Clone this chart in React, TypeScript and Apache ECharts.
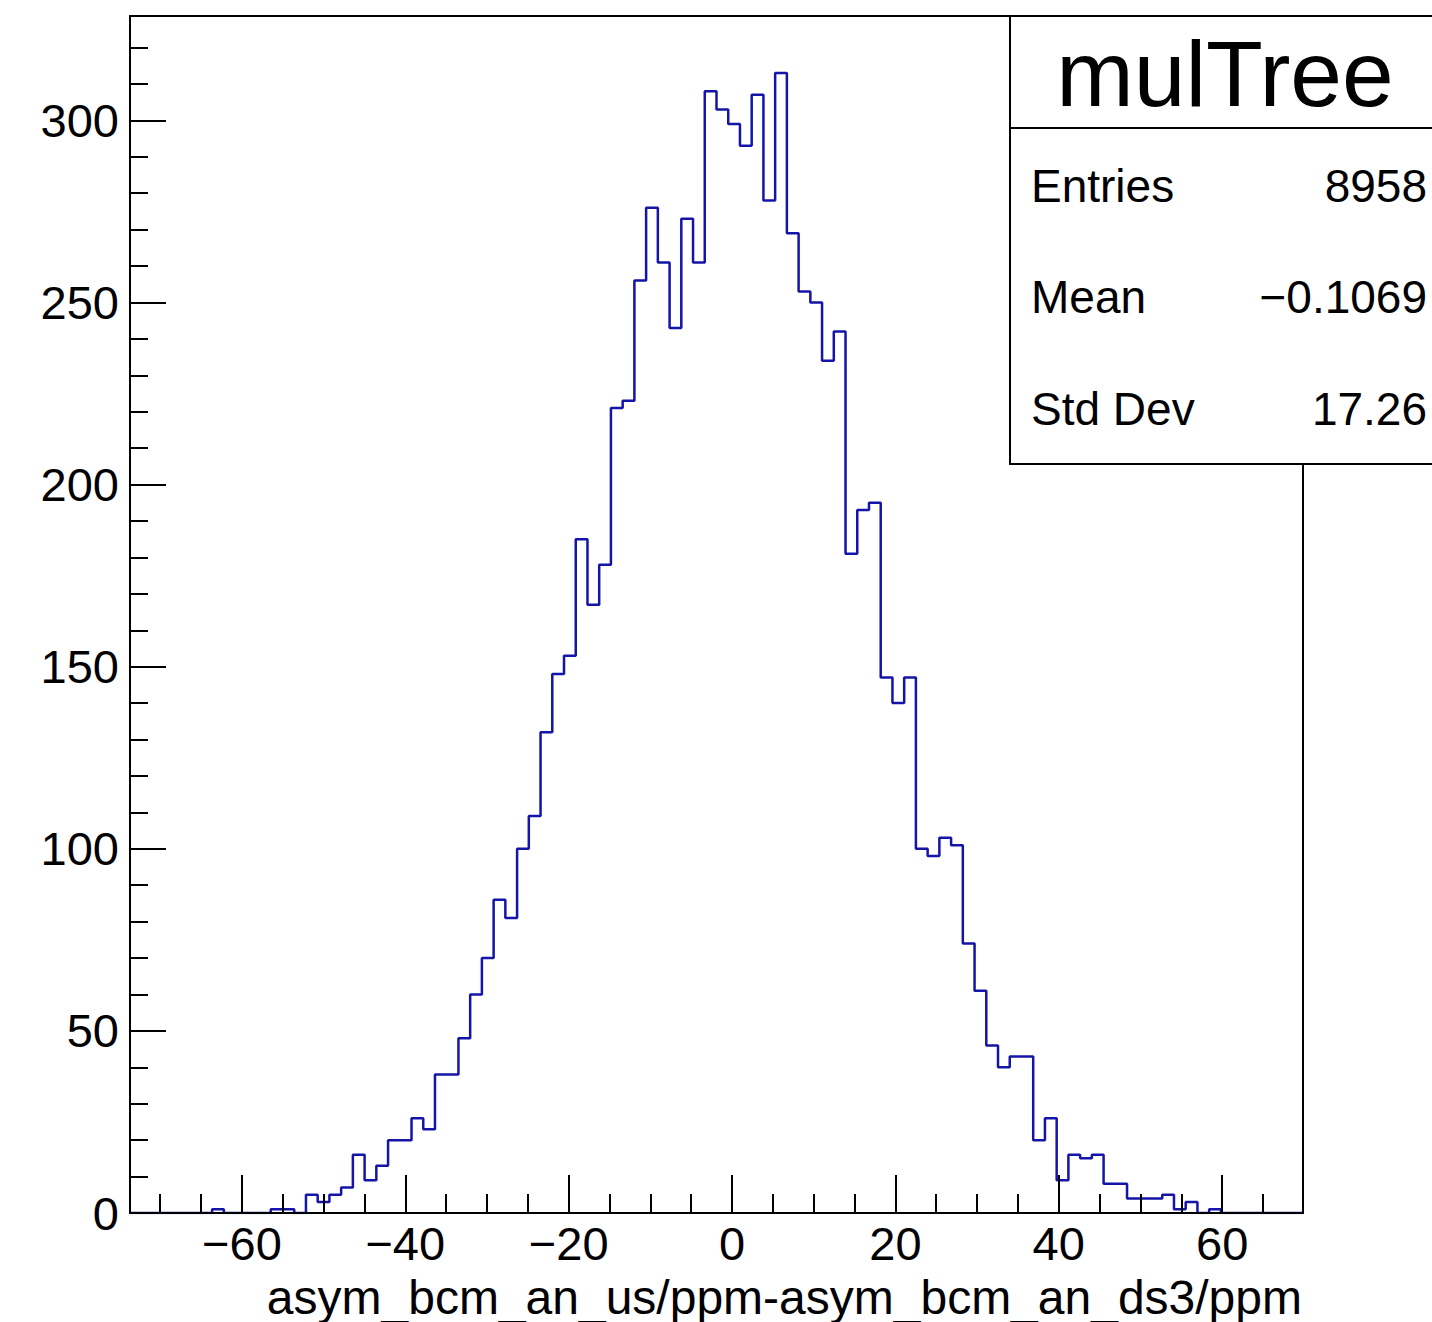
import React, { useEffect, useRef } from "react";
import * as echarts from "echarts";

// Histogram definition (100 bins) and bin contents
const X_MIN = -73.7;
const X_MAX = 69.9;
const Y_MAX = 328.65;
const counts = [
  0, 0, 0, 0, 0, 0, 0, 1, 0, 0,
  0, 0, 1, 1, 0, 5, 3, 5, 7, 16,
  9, 13, 20, 20, 26, 23, 38, 38, 48, 60,
  70, 86, 81, 100, 109, 132, 148, 153, 185, 167,
  178, 221, 223, 256, 276, 261, 243, 273, 261, 308,
  303, 299, 293, 307, 278, 313, 269, 253, 250, 234,
  242, 181, 193, 195, 147, 140, 147, 100, 98, 103,
  101, 74, 61, 46, 40, 43, 43, 20, 26, 9,
  16, 15, 16, 8, 8, 4, 4, 4, 5, 1,
  3, 0, 1, 0, 0, 0, 0, 0, 0, 0,
];

const xMajorTicks = [-60, -40, -20, 0, 20, 40, 60];
const xMinorTicks = [-70, -65, -55, -50, -45, -35, -30, -25, -15, -10, -5, 5, 10, 15, 25, 30, 35, 45, 50, 55, 65];
const yMajorTicks = [0, 50, 100, 150, 200, 250, 300];
const yMinorTicks = [10, 20, 30, 40, 60, 70, 80, 90, 110, 120, 130, 140, 160, 170, 180, 190, 210, 220, 230, 240, 260, 270, 280, 290, 310, 320];

const statsTitle = "mulTree";
const statsLabels = ["Entries", "Mean", "Std Dev"];
const statsValues = ["8958", "\u22120.1069", "17.26"];
const xTitle = "asym_bcm_an_us/ppm-asym_bcm_an_ds3/ppm";

const FONT = "'Liberation Sans', Arial, Helvetica, sans-serif";

function fmt(v: number): string {
  return v < 0 ? "\u2212" + Math.abs(v) : String(v);
}

export default function App() {
  const ref = useRef<HTMLDivElement>(null);

  useEffect(() => {
    document.body.style.margin = "0";
    if (!ref.current) return;
    const chart = echarts.init(ref.current, null, { renderer: "svg" });

    const nBins = counts.length;
    const bw = (X_MAX - X_MIN) / nBins;
    const pts: number[][] = [];
    counts.forEach((c, i) => {
      pts.push([X_MIN + i * bw, c]);
      pts.push([X_MIN + (i + 1) * bw, c]);
    });

    const tickLine = { color: "#000", width: 2 };

    const rowY = [186, 297, 409];
    const graphics: any[] = [
      {
        type: "rect",
        z: 100,
        shape: { x: 1010, y: 16, width: 440, height: 448 },
        style: { fill: "#fff", stroke: "#000", lineWidth: 2 },
      },
      {
        type: "line",
        z: 101,
        shape: { x1: 1010, y1: 128, x2: 1440, y2: 128 },
        style: { stroke: "#000", lineWidth: 2 },
      },
      {
        type: "text",
        z: 101,
        x: 1225,
        y: 74,
        style: {
          text: statsTitle,
          fontSize: 93,
          fontFamily: FONT,
          fill: "#000",
          align: "center",
          verticalAlign: "middle",
        },
      },
      {
        type: "text",
        z: 101,
        x: 1302,
        y: 1297,
        style: {
          text: xTitle,
          fontSize: 48,
          fontFamily: FONT,
          fill: "#000",
          align: "right",
          verticalAlign: "middle",
        },
      },
    ];
    statsLabels.forEach((l, i) => {
      graphics.push({
        type: "text",
        z: 101,
        x: 1031,
        y: rowY[i],
        style: { text: l, fontSize: 46, fontFamily: FONT, fill: "#000", align: "left", verticalAlign: "middle" },
      });
      graphics.push({
        type: "text",
        z: 101,
        x: 1427,
        y: rowY[i],
        style: { text: statsValues[i], fontSize: 46, fontFamily: FONT, fill: "#000", align: "right", verticalAlign: "middle" },
      });
    });

    chart.setOption({
      animation: false,
      backgroundColor: "#fff",
      grid: {
        left: 130,
        top: 16,
        width: 1173,
        height: 1197,
        show: true,
        borderColor: "#000",
        borderWidth: 2,
        backgroundColor: "#fff",
      },
      xAxis: [
        {
          type: "value",
          min: X_MIN,
          max: X_MAX,
          position: "bottom",
          z: 10,
          axisLine: { show: true, onZero: false, lineStyle: { color: "#000", width: 2 } },
          axisTick: { show: true, inside: true, length: 38, customValues: xMajorTicks, lineStyle: tickLine },
          axisLabel: {
            show: true,
            customValues: xMajorTicks,
            formatter: (v: number) => fmt(v),
            fontSize: 47,
            fontFamily: FONT,
            color: "#000",
            margin: 7,
          },
          splitLine: { show: false },
        },
        {
          type: "value",
          min: X_MIN,
          max: X_MAX,
          position: "bottom",
          offset: 0,
          z: 10,
          axisLine: { show: false, onZero: false },
          axisTick: { show: true, inside: true, length: 19, customValues: xMinorTicks, lineStyle: tickLine },
          axisLabel: { show: false },
          splitLine: { show: false },
        },
      ],
      yAxis: [
        {
          type: "value",
          min: 0,
          max: Y_MAX,
          position: "left",
          z: 10,
          axisLine: { show: true, onZero: false, lineStyle: { color: "#000", width: 2 } },
          axisTick: { show: true, inside: true, length: 36, customValues: yMajorTicks, lineStyle: tickLine },
          axisLabel: {
            show: true,
            customValues: yMajorTicks,
            formatter: (v: number) => fmt(v),
            fontSize: 47,
            fontFamily: FONT,
            color: "#000",
            margin: 11,
          },
          splitLine: { show: false },
        },
        {
          type: "value",
          min: 0,
          max: Y_MAX,
          position: "left",
          offset: 0,
          z: 10,
          axisLine: { show: false, onZero: false },
          axisTick: { show: true, inside: true, length: 18, customValues: yMinorTicks, lineStyle: tickLine },
          axisLabel: { show: false },
          splitLine: { show: false },
        },
      ],
      series: [
        {
          type: "line",
          xAxisIndex: 0,
          yAxisIndex: 0,
          data: pts,
          showSymbol: false,
          symbol: "none",
          z: 2,
          lineStyle: { color: "#1414a8", width: 2.5 },
        },
      ],
      graphic: graphics,
    });

    return () => chart.dispose();
  }, []);

  return <div ref={ref} style={{ width: 1432, height: 1322 }} />;
}
